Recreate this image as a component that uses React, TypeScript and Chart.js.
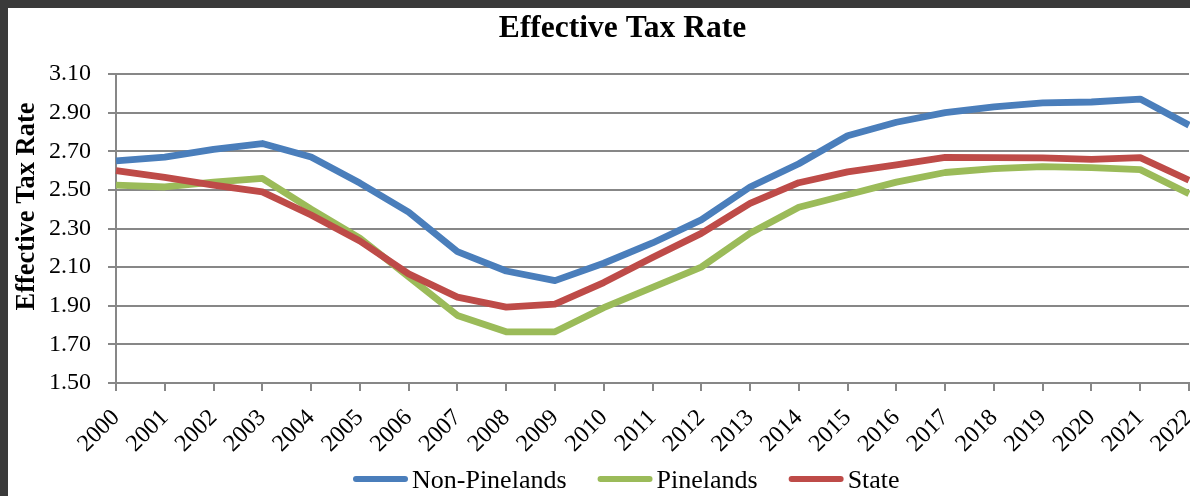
import React, { useEffect, useRef } from 'react';
import { Chart, registerables } from 'chart.js';

Chart.register(...registerables);

const years = ['2000','2001','2002','2003','2004','2005','2006','2007','2008','2009','2010','2011','2012','2013','2014','2015','2016','2017','2018','2019','2020','2021','2022'];
const nonPinelands = [2.65,2.67,2.71,2.74,2.67,2.535,2.385,2.18,2.08,2.03,2.12,2.225,2.345,2.515,2.635,2.78,2.85,2.90,2.93,2.95,2.955,2.97,2.835];
const pinelands = [2.525,2.515,2.54,2.56,2.40,2.25,2.05,1.85,1.765,1.765,1.89,1.995,2.10,2.275,2.41,2.475,2.54,2.59,2.61,2.62,2.615,2.605,2.48];
const stateRate = [2.60,2.565,2.525,2.49,2.37,2.235,2.065,1.945,1.893,1.908,2.02,2.15,2.275,2.43,2.537,2.593,2.63,2.668,2.667,2.666,2.658,2.667,2.55];
const seriesNames = ['Non-Pinelands', 'Pinelands', 'State'];
const seriesColors = ['#4A7EBB', '#9BBB59', '#BE4B48'];
const chartTitle = 'Effective Tax Rate';
const yAxisTitle = 'Effective Tax Rate';

const FONT = "'Liberation Serif', 'Times New Roman', serif";
const GRID = '#878787';

export default function App() {
  const ref = useRef<HTMLCanvasElement>(null);

  useEffect(() => {
    if (!ref.current) return;
    const textPlugin = {
      id: 'customText',
      afterDraw(chart: any) {
        const ctx = chart.ctx as CanvasRenderingContext2D;
        ctx.save();
        // Title
        ctx.fillStyle = '#000';
        ctx.font = `bold 31.5px ${FONT}`;
        ctx.textAlign = 'center';
        ctx.textBaseline = 'alphabetic';
        ctx.fillText(chartTitle, 614.5, 29);
        // Y axis title
        ctx.save();
        ctx.translate(26, 198.5);
        ctx.rotate(-Math.PI / 2);
        ctx.font = `bold 26.5px ${FONT}`;
        ctx.textAlign = 'center';
        ctx.fillText(yAxisTitle, 0, 0);
        ctx.restore();
        // Legend
        ctx.font = `26px ${FONT}`;
        ctx.textAlign = 'left';
        let x = 345;
        const lineY = 471;
        const textY = 479.5;
        seriesNames.forEach((name, i) => {
          ctx.strokeStyle = seriesColors[i];
          ctx.lineWidth = 6;
          ctx.lineCap = 'round';
          ctx.beginPath();
          ctx.moveTo(x + 3, lineY);
          ctx.lineTo(x + 52, lineY);
          ctx.stroke();
          ctx.fillStyle = '#000';
          ctx.fillText(name, x + 59, textY);
          x += 59 + ctx.measureText(name).width + 31;
        });
        ctx.restore();
      },
    };

    const data = [nonPinelands, pinelands, stateRate];
    const chart = new Chart(ref.current, {
      type: 'line',
      data: {
        labels: years,
        datasets: seriesNames.map((name, i) => ({
          label: name,
          data: data[i],
          borderColor: seriesColors[i],
          backgroundColor: seriesColors[i],
          borderWidth: 6.8,
          pointRadius: 0,
          tension: 0,
          fill: false,
          order: 2 - i,
          borderJoinStyle: 'round' as const,
        })),
      },
      options: {
        responsive: false,
        animation: false,
        layout: { padding: { top: 66, right: 1, left: 0, bottom: 0 } },
        plugins: {
          legend: { display: false },
          title: { display: false },
          tooltip: { enabled: false },
        },
        scales: {
          x: {
            grid: {
              display: true,
              drawOnChartArea: false,
              drawTicks: true,
              tickLength: 8,
              color: GRID,
              lineWidth: 2,
            },
            border: { display: true, color: GRID, width: 2 },
            ticks: {
              autoSkip: false,
              maxRotation: 45,
              minRotation: 45,
              padding: 13,
              color: '#000',
              font: { family: FONT, size: 24 },
            },
            afterFit(scale: any) {
              scale.height = 113;
              scale.paddingRight = 0;
              scale.paddingLeft = 0;
            },
          },
          y: {
            min: 1.5,
            max: 3.1,
            ticks: {
              stepSize: 0.2,
              padding: 17,
              color: '#000',
              font: { family: FONT, size: 24 },
              callback: (v: any) => Number(v).toFixed(2),
            },
            grid: { color: GRID, lineWidth: 2, tickLength: 8, drawTicks: true },
            border: { display: true, color: GRID, width: 2 },
            afterFit(scale: any) {
              scale.width = 108;
              scale.paddingTop = 0;
              scale.paddingBottom = 0;
            },
          },
        },
      },
      plugins: [textPlugin],
    });
    return () => chart.destroy();
  }, []);

  return (
    <div style={{ position: 'fixed', inset: 0, background: '#3a3a3a' }}>
      <div style={{ position: 'absolute', left: 8, top: 8, width: 1182, height: 488, background: '#fff' }}>
        <canvas ref={ref} width={1182} height={488} style={{ display: 'block' }} />
      </div>
    </div>
  );
}
